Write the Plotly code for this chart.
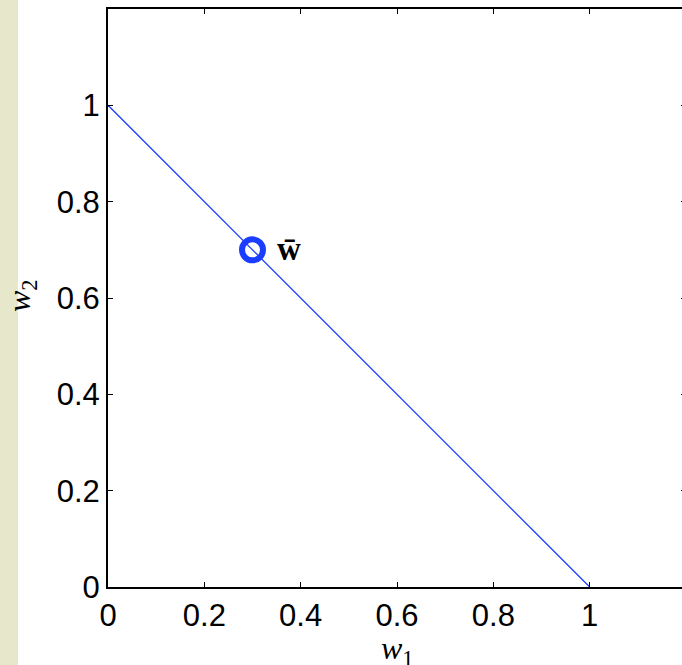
import plotly.graph_objects as go

# data
line_w1 = [0, 1]
line_w2 = [1, 0]
point_w1 = [0.3]
point_w2 = [0.7]
point_label = "w\u0304"
tick_vals = [0, 0.2, 0.4, 0.6, 0.8, 1]
tick_text = ["0", "0.2", "0.4", "0.6", "0.8", "1"]
x_title = "<i>w</i><sub>1</sub>"
y_title = "<i>w</i><sub>2</sub>"

blue = "#1a3dff"

fig = go.Figure()
fig.add_trace(go.Scatter(x=line_w1, y=line_w2, mode="lines",
                         line=dict(color=blue, width=1.3), showlegend=False,
                         hoverinfo="skip"))
fig.add_trace(go.Scatter(x=point_w1, y=point_w2, mode="markers",
                         marker=dict(symbol="circle-open", size=21,
                                     line=dict(color=blue, width=6), color=blue),
                         showlegend=False))
fig.add_annotation(x=point_w1[0], y=point_w2[0], text="<b>" + point_label + "</b>",
                   showarrow=False, xanchor="left", yanchor="middle",
                   xshift=22, yshift=1,
                   font=dict(family="Liberation Serif", size=33, color="black"))

# axis titles
fig.add_annotation(xref="paper", yref="paper", x=0.5, y=(587 - 650) / 578,
                   text=x_title, showarrow=False, xanchor="center", yanchor="middle",
                   font=dict(family="Liberation Serif", size=32, color="black"))
fig.add_annotation(xref="paper", yref="paper", x=(22 - 108) / 578, y=(587 - 296) / 578,
                   text=y_title, showarrow=False, xanchor="center", yanchor="middle",
                   textangle=-90,
                   font=dict(family="Liberation Serif", size=32, color="black"))

# beige strip at left edge of the page
fig.add_shape(type="rect", xref="paper", yref="paper",
              x0=-108 / 578, x1=-90 / 578, y0=-1, y1=2,
              fillcolor="#e7e7cc", line=dict(width=0), layer="below")

axis_common = dict(
    showline=True, linecolor="black", linewidth=2,
    ticks="inside", ticklen=5, tickwidth=1, tickcolor="black",
    showgrid=False, zeroline=False, automargin=False, mirror="ticks",
    tickvals=tick_vals, ticktext=tick_text,
    tickfont=dict(family="Liberation Sans", size=31, color="black"),
)

# the figure is 4px wider than the window: the right frame falls just off-page
fig.update_layout(
    width=686, height=665,
    margin=dict(l=108, r=0, t=9, b=78, autoexpand=False),
    paper_bgcolor="white", plot_bgcolor="white",
    xaxis=dict(range=[0, 1.2], **axis_common),
    yaxis=dict(range=[0, 1.2], **axis_common),
)

fig.write_html("out.html", config={"displayModeBar": False},
               post_script="document.body.style.margin='0px';document.body.style.overflow='hidden';"
                           "document.documentElement.style.overflow='hidden';")
